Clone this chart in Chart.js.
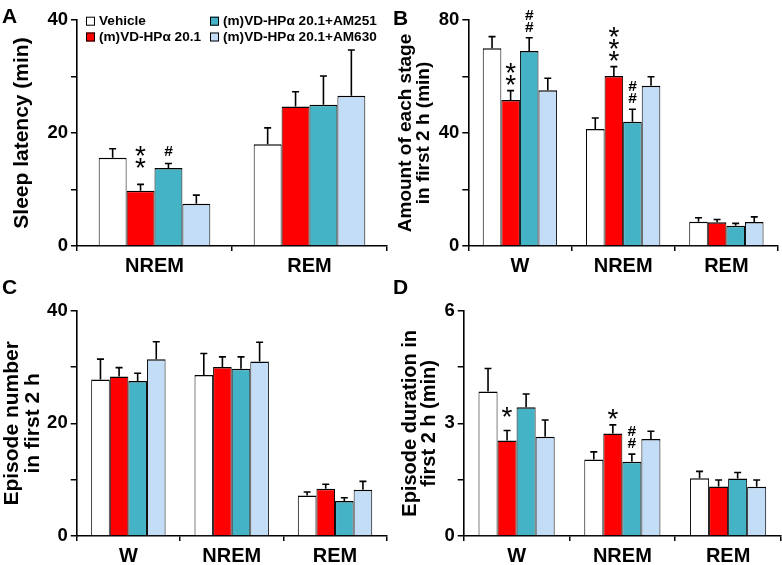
<!DOCTYPE html>
<html><head><meta charset="utf-8">
<script src="https://cdn.jsdelivr.net/npm/chart.js@4"></script>
<style>
html,body{margin:0;padding:0;background:#fff;}
#wrap{position:relative;width:782px;height:565px;overflow:hidden;background:#fff;}
canvas{position:absolute;}
</style></head><body>
<div id="wrap">
<canvas id="cA" width="391" height="280" style="left:0;top:0"></canvas>
<canvas id="cB" width="391" height="280" style="left:391px;top:0"></canvas>
<canvas id="cC" width="391" height="295" style="left:0;top:270px"></canvas>
<canvas id="cD" width="391" height="295" style="left:391px;top:270px"></canvas>
</div>
<script>
// ---------- data ----------
const seriesNames = ['Vehicle', '(m)VD-HPα 20.1', '(m)VD-HPα 20.1+AM251', '(m)VD-HPα 20.1+AM630'];

// Panel A: sleep latency (min)
const catsA = ['NREM', 'REM'];
const meanA = [[15.6, 18.0], [9.8, 24.7], [13.8, 25.0], [7.5, 26.6]];
const semA  = [[1.6, 2.9], [1.1, 2.6], [0.8, 5.1], [1.5, 8.1]];
const yTicksA = [0, 20, 40];
const marksA = [{series: 1, cat: 0, text: '**'}, {series: 2, cat: 0, text: '#'}];

// Panel B: amount of each stage in first 2 h (min)
const catsB = ['W', 'NREM', 'REM'];
const meanB = [[70.0, 41.4, 8.6], [51.7, 60.2, 8.4], [69.0, 44.0, 7.2], [55.1, 56.7, 8.5]];
const semB  = [[4.1, 3.9, 1.4], [3.3, 3.3, 1.0], [4.7, 4.4, 0.8], [4.3, 3.2, 1.8]];
const yTicksB = [0, 40, 80];
const marksB = [{series: 1, cat: 0, text: '**'}, {series: 2, cat: 0, text: '##'},
                {series: 1, cat: 1, text: '***'}, {series: 2, cat: 1, text: '##'}];

// Panel C: episode number in first 2 h
const catsC = ['W', 'NREM', 'REM'];
const meanC = [[27.8, 28.6, 7.2], [28.3, 30.0, 8.4], [27.5, 29.7, 6.2], [31.4, 31.0, 8.2]];
const semC  = [[3.6, 3.8, 0.6], [1.6, 1.8, 0.8], [1.4, 2.1, 0.6], [3.1, 3.4, 1.5]];
const yTicksC = [0, 20, 40];
const marksC = [];

// Panel D: episode duration in first 2 h (min)
const catsD = ['W', 'NREM', 'REM'];
const meanD = [[3.85, 2.04, 1.54], [2.54, 2.73, 1.32], [3.43, 1.98, 1.53], [2.64, 2.58, 1.31]];
const semD  = [[0.61, 0.20, 0.18], [0.27, 0.23, 0.17], [0.35, 0.20, 0.16], [0.45, 0.21, 0.18]];
const yTicksD = [0, 3, 6];
const marksD = [{series: 1, cat: 0, text: '*'}, {series: 1, cat: 1, text: '*'}, {series: 2, cat: 1, text: '##'}];

// ---------- style ----------
const FONT = 'Arial, "Liberation Sans", Helvetica, sans-serif';
const seriesColors = ['#ffffff', '#ff0000', '#45b3c6', '#c3ddf7'];

const errorMarkPlugin = {
  id: 'errorMarks',
  afterDatasetsDraw(chart, args, opts) {
    const ctx = chart.ctx;
    const ys = chart.scales.y;
    ctx.save();
    ctx.strokeStyle = '#000';
    ctx.lineWidth = 1.6;
    const tops = [];
    chart.data.datasets.forEach((ds, i) => {
      const meta = chart.getDatasetMeta(i);
      tops[i] = [];
      meta.data.forEach((bar, j) => {
        const top = ys.getPixelForValue(ds.data[j] + ds.sem[j]);
        tops[i][j] = {x: bar.x, y: top};
        ctx.beginPath();
        ctx.moveTo(bar.x, bar.y);
        ctx.lineTo(bar.x, top);
        ctx.moveTo(bar.x - 3.5, top);
        ctx.lineTo(bar.x + 3.5, top);
        ctx.stroke();
      });
    });
    // significance marks
    ctx.fillStyle = '#000';
    ctx.textAlign = 'center';
    ctx.textBaseline = 'alphabetic';
    (opts.marks || []).forEach((m, k) => {
      const p = tops[m.series][m.cat];
      let bottom = p.y - 6 - ((opts.lifts && opts.lifts[k]) || 0);
      const chars = m.text.split('');
      chars.forEach(ch => {
        ctx.font = ch === '*' ? ('28px ' + FONT) : ('bold 15.5px ' + FONT);
        const mt = ctx.measureText(ch);
        const base = bottom - mt.actualBoundingBoxDescent;
        ctx.fillText(ch, p.x, base);
        const topY = base - mt.actualBoundingBoxAscent;
        bottom = topY - 2;
      });
    });
    ctx.restore();
  },
  afterDraw(chart, args, opts) {
    const ctx = chart.ctx;
    ctx.save();
    ctx.fillStyle = '#000';
    ctx.textAlign = 'left';
    ctx.textBaseline = 'alphabetic';
    ctx.font = 'bold 21px ' + FONT;
    ctx.fillText(opts.letter, opts.letterX, opts.letterY);
    if (opts.legend) {
      const L = opts.legend;
      ctx.font = 'bold 13.6px ' + FONT;
      ctx.textBaseline = 'middle';
      seriesNames.forEach((name, i) => {
        const col = Math.floor(i / 2), row = i % 2;
        const bx = L.x[col], cy = L.y[row];
        ctx.fillStyle = seriesColors[i];
        ctx.fillRect(bx, cy - 4.5, 9, 9);
        ctx.strokeStyle = '#000';
        ctx.lineWidth = 1;
        ctx.strokeRect(bx + 0.5, cy - 4, 8, 8);
        ctx.fillStyle = '#000';
        ctx.fillText(name, bx + 13, cy + 0.5);
      });
    }
    ctx.restore();
  }
};

function makePanel(id, cfg) {
  const datasets = cfg.mean.map((vals, i) => ({
    label: seriesNames[i],
    data: vals,
    sem: cfg.sem[i],
    backgroundColor: seriesColors[i],
    borderColor: '#000',
    borderWidth: {top: 1.5, left: 1, right: 1, bottom: 0},
    borderSkipped: 'start',
    barPercentage: 1.0,
    categoryPercentage: 0.72
  }));
  return new Chart(document.getElementById(id), {
    type: 'bar',
    data: {labels: cfg.cats, datasets},
    plugins: [errorMarkPlugin],
    options: {
      responsive: false,
      animation: false,
      events: [],
      layout: {autoPadding: false, padding: {top: cfg.padTop, right: cfg.padRight, left: 0, bottom: 0}},
      plugins: {
        legend: {display: false},
        tooltip: {enabled: false},
        errorMarks: {marks: cfg.marks, lifts: cfg.lifts, letter: cfg.letter, letterX: cfg.letterX, letterY: cfg.letterY, legend: cfg.legend}
      },
      scales: {
        x: {
          z: 1,
          offset: true,
          grid: {offset: true, drawOnChartArea: false, drawTicks: true, tickLength: 5, color: '#000', lineWidth: 1.5},
          border: {display: true, color: '#000', width: 1.6},
          ticks: {color: '#000', font: {family: FONT, size: 20, weight: 'bold'}, padding: 3, maxRotation: 0},
          afterFit: s => { s.height = cfg.xHeight; }
        },
        y: {
          z: 1,
          min: 0,
          max: cfg.yTicks[cfg.yTicks.length - 1],
          grid: {drawOnChartArea: false, drawTicks: true, tickLength: 6, color: '#000', lineWidth: 1.5},
          border: {display: true, color: '#000', width: 1.6},
          ticks: {
            stepSize: cfg.yTicks[1] / 2,
            color: '#000',
            padding: 3,
            font: {family: FONT, size: 18.5, weight: 'bold'},
            callback: v => (cfg.yTicks.some(t => Math.abs(t - v) < 1e-9) ? String(v) : '')
          },
          title: {
            display: true,
            text: cfg.title,
            color: '#000',
            font: {family: FONT, size: cfg.titleSize, weight: 'bold', lineHeight: cfg.titleLH},
            padding: {top: cfg.titlePad, bottom: 0}
          },
          afterFit: s => { s.width = cfg.yWidth; }
        }
      }
    }
  });
}

makePanel('cA', {
  cats: catsA, mean: meanA, sem: semA, yTicks: yTicksA, marks: marksA, lifts: [10, 2],
  title: 'Sleep latency (min)', titleSize: 21, titleLH: 1.2, titlePad: 10,
  yWidth: 77, xHeight: 34, padTop: 20, padRight: 4,
  letter: 'A', letterX: 2, letterY: 23,
  legend: {x: [86, 210], y: [21.2, 37]}
});
makePanel('cB', {
  cats: catsB, mean: meanB, sem: semB, yTicks: yTicksB, marks: marksB, lifts: [0, 0, 0, 0],
  title: ['Amount of each stage', 'in first 2 h (min)'], titleSize: 19, titleLH: 0.95, titlePad: 6,
  yWidth: 77.3, xHeight: 34, padTop: 20, padRight: 4,
  letter: 'B', letterX: 2, letterY: 24.5
});
makePanel('cC', {
  cats: catsC, mean: meanC, sem: semC, yTicks: yTicksC, marks: marksC, lifts: [],
  title: ['Episode number', 'in first 2 h'], titleSize: 21, titleLH: 1.0, titlePad: 2,
  yWidth: 76.7, xHeight: 29, padTop: 40.7, padRight: 4.3,
  letter: 'C', letterX: 2, letterY: 23.5
});
makePanel('cD', {
  cats: catsD, mean: meanD, sem: semD, yTicks: yTicksD, marks: marksD, lifts: [7, 0, 0],
  title: ['Episode duration in', 'first 2 h (min)'], titleSize: 20, titleLH: 0.95, titlePad: 10,
  yWidth: 72.7, xHeight: 29, padTop: 40.7, padRight: 1,
  letter: 'D', letterX: 2, letterY: 23.5
});
</script>
</body></html>
